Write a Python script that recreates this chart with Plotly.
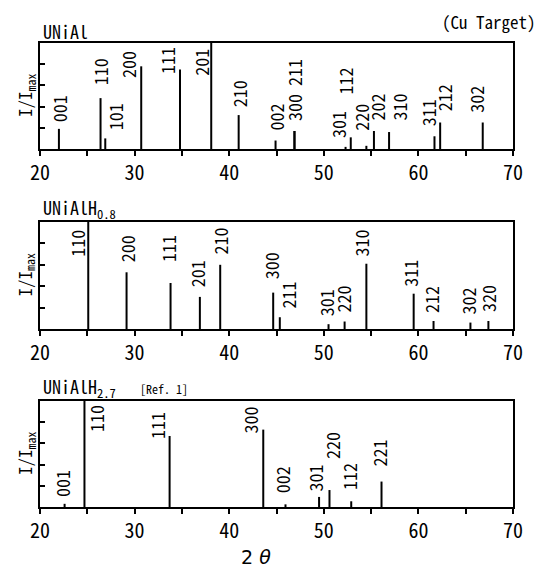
import plotly.graph_objects as go

# ---------------- data ----------------
p1_hkl = ["001", "110", "101", "200", "111", "201", "210", "002", "300", "211",
          "301", "112", "220", "202", "310", "311", "212", "302"]
p1_2theta = [22.0, 26.4, 26.9, 30.7, 34.8, 38.1, 41.0, 44.9, 46.9, 46.9,
             52.3, 52.85, 54.5, 55.3, 56.9, 61.7, 62.3, 66.8]
p1_int = [0.19, 0.48, 0.10, 0.78, 0.75, 1.0, 0.32, 0.08, 0.17, 0.17,
          0.02, 0.11, 0.03, 0.17, 0.16, 0.12, 0.25, 0.25]

p2_hkl = ["110", "200", "111", "201", "210", "300", "211", "301", "220",
          "310", "311", "212", "302", "320"]
p2_2theta = [25.1, 29.15, 33.8, 36.9, 39.05, 44.65, 45.35, 50.5, 52.2,
             54.5, 59.5, 61.6, 65.5, 67.4]
p2_int = [1.0, 0.53, 0.43, 0.30, 0.60, 0.34, 0.11, 0.045, 0.07,
          0.61, 0.33, 0.075, 0.06, 0.075]

p3_hkl = ["001", "110", "111", "300", "002", "301", "220", "112", "221"]
p3_2theta = [22.6, 24.7, 33.7, 43.6, 45.95, 49.5, 50.6, 52.9, 56.1]
p3_int = [0.03, 1.0, 0.67, 0.73, 0.025, 0.095, 0.16, 0.054, 0.24]

titles = ["UNiAl", "UNiAlH<sub>0.8</sub>", "UNiAlH<sub>2.7</sub>"]
x_ticks = [20, 25, 30, 35, 40, 45, 50, 55, 60, 65, 70]
x_ticktext = ["20", "", "30", "", "40", "", "50", "", "60", "", "70"]

# label pixel offsets (styling: where each hkl label sits relative to its peak top)
p1_shift = [(0, 5), (-1, 11), (10, 6), (-13, -14), (-13, -7), (-10, -35), (0, 6),
            (0, 8), (0, 8), (0, 43), (-7, 7), (-6, 41), (-5, 13), (4, 9), (9, 9),
            (-7, 8), (4, 9), (-7, 8)]
p2_shift = [(-12, -37), (0, 8), (-2, 19), (-2, 8), (0, 8), (-2, 11), (8, 7),
            (-3, 6), (-2, 7), (-5, 5), (-3, 5), (-2, 6), (-2, 6), (0, 7)]
p3_shift = [(-2, 5), (11, -33), (-12, -5), (-13, -6), (-4, 9), (-4, 3), (2, 29),
            (-2, 9), (-2, 13)]

W, H = 546, 571
NARROW = "Noto Sans Mono CJK JP, Liberation Sans, sans-serif"
MONO = "Noto Sans Mono CJK JP, Liberation Mono, monospace"

panels = [
    (p1_hkl, p1_2theta, p1_int, p1_shift, (43, 149)),
    (p2_hkl, p2_2theta, p2_int, p2_shift, (222, 329)),
    (p3_hkl, p3_2theta, p3_int, p3_shift, (401, 507)),
]

fig = go.Figure()
annotations = []
layout = {}
xdom = [40 / W, 513 / W]

for i, (hkl, tt, inten, shifts, (top, bot)) in enumerate(panels):
    n = "" if i == 0 else str(i + 1)
    xs, ys = [], []
    for x, y in zip(tt, inten):
        xs += [x, x, None]
        ys += [0, y, None]
    fig.add_trace(go.Scatter(x=xs, y=ys, mode="lines",
                             line=dict(color="black", width=2),
                             xaxis="x" + n, yaxis="y" + n,
                             showlegend=False, hoverinfo="skip"))
    layout["xaxis" + n] = dict(
        domain=xdom, anchor="y" + n, range=[20, 70], automargin=False,
        tickmode="array", tickvals=x_ticks, ticktext=x_ticktext,
        ticks="outside", ticklen=5, tickwidth=1.5, tickcolor="black",
        showline=True, linewidth=2, linecolor="black", mirror=True,
        showgrid=False, zeroline=False,
        tickfont=dict(family=NARROW, size=20, color="black"),
    )
    layout["yaxis" + n] = dict(
        domain=[1 - bot / H, 1 - top / H], anchor="x" + n, range=[0, 1.0],
        automargin=False,
        tickmode="array", tickvals=[0.2, 0.4, 0.6, 0.8], showticklabels=False,
        ticks="inside", ticklen=5, tickwidth=1.5, tickcolor="black",
        showline=True, linewidth=2, linecolor="black", mirror=True,
        showgrid=False, zeroline=False,
    )
    for lab, x, y, (dx, dy) in zip(hkl, tt, inten, shifts):
        annotations.append(dict(
            x=x, y=y, xref="x" + n, yref="y" + n, text=lab, showarrow=False,
            textangle=-90, xanchor="center", yanchor="bottom",
            xshift=dx, yshift=dy,
            font=dict(family=NARROW, size=18, color="black"),
        ))
    # panel title
    annotations.append(dict(
        x=41 / W, y=1 - top / H, xref="paper", yref="paper",
        text=titles[i], showarrow=False, xanchor="left", yanchor="bottom",
        yshift=-3, font=dict(family=MONO, size=18, color="black"),
    ))
    # y-axis title
    annotations.append(dict(
        x=25 / W, y=1 - (top + bot) / 2 / H, xref="paper", yref="paper",
        text="I/I<sub>max</sub>", showarrow=False, textangle=-90,
        xanchor="center", yanchor="middle",
        font=dict(family=MONO, size=17, color="black"),
    ))

annotations.append(dict(
    x=538 / W, y=1 - 21 / H, xref="paper", yref="paper", text="(Cu Target)",
    showarrow=False, xanchor="right", yanchor="middle",
    font=dict(family=MONO, size=17, color="black"),
))
annotations.append(dict(
    x=138 / W, y=1 - 388 / H, xref="paper", yref="paper", text="[Ref. 1]",
    showarrow=False, xanchor="left", yanchor="middle",
    font=dict(family=MONO, size=12, color="black"),
))
annotations.append(dict(
    x=256 / W, y=1 - 557 / H, xref="paper", yref="paper",
    text="2 <i>θ</i>", showarrow=False, xanchor="center", yanchor="middle",
    font=dict(family="DejaVu Sans, sans-serif", size=19, color="black"),
))

fig.update_layout(
    width=W, height=H,
    margin=dict(l=0, r=0, t=0, b=0, pad=0, autoexpand=False),
    paper_bgcolor="white", plot_bgcolor="white",
    annotations=annotations, **layout,
)
fig.write_html("out.html", config={"displayModeBar": False},
               post_script="document.body.style.margin='0';document.body.style.overflow='hidden';")
